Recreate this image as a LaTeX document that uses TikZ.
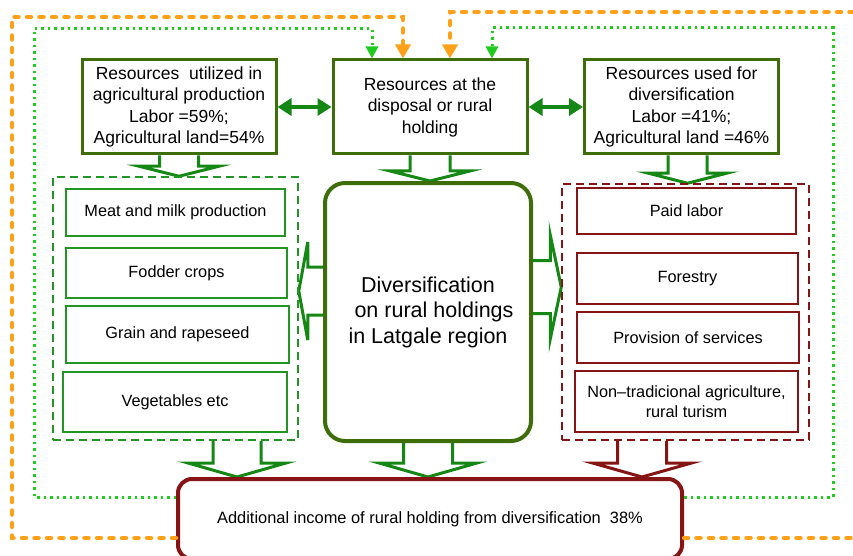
\documentclass[tikz,border=0pt]{standalone}
\usepackage{fontspec}
\setmainfont{Liberation Sans}
\usepackage{tikz}
\usetikzlibrary{arrows.meta}
\usetikzlibrary{calc}
\usetikzlibrary{backgrounds}

\definecolor{boxgreen}{RGB}{62,110,10}
\definecolor{arrowgreen}{RGB}{20,135,20}
\definecolor{listgreen}{RGB}{34,150,34}
\definecolor{listred}{RGB}{135,20,20}
\definecolor{backorange}{RGB}{255,160,25}
\definecolor{backgreen}{RGB}{30,205,30}

\newcommand{\blockarrow}[6][]{%
  \coordinate (bah) at ($(#3)!#6!(#2)$);
  \draw [blockarr, #1] ($(#2)!#4!90:(#3)$) -- ($(bah)!#4!90:(#3)$) -- ($(bah)!#5!90:(#3)$) -- (#3)
    -- ($(bah)!#5!-90:(#3)$) -- ($(bah)!#4!-90:(#3)$) -- ($(#2)!#4!-90:(#3)$);
}

\begin{document}
\begin{tikzpicture}[x=1pt, y=-1pt,
  topbox/.style={draw=boxgreen, line width=3pt, minimum width=194pt, minimum height=94pt, align=center, inner sep=0pt, font=\fontsize{17.5}{21.5}\selectfont},
  divbox/.style={draw=boxgreen, line width=4pt, rounded corners=20pt, minimum width=206pt, minimum height=258pt, align=center, font=\fontsize{21.5}{25.5}\selectfont},
  listgroup/.style={line width=1.5pt, dash pattern=on 8pt off 5pt},
  listbox/.style={line width=2pt, align=center, inner sep=0pt, font=\fontsize{16.3}{19.5}\selectfont},
  incomebox/.style={draw=listred, line width=4pt, rounded corners=14pt, minimum width=504pt, minimum height=80pt, font=\fontsize{16.4}{19.5}\selectfont},
  duplex/.style={{Triangle[length=14pt,width=17pt]}-{Triangle[length=14pt,width=17pt]}, line width=4pt, arrowgreen},
  blockarr/.style={draw=arrowgreen, fill=white, line width=3pt},
  backorg/.style={backorange, line width=4.5pt, line cap=round, dash pattern=on 4pt off 8.5pt, -{Triangle[length=14pt,width=15pt]}},
  backgrn/.style={backgreen, line width=3pt, dash pattern=on 2.5pt off 4pt, -{Triangle[length=12pt,width=12pt]}}]
\useasboundingbox (0,0) rectangle (853,556);
\clip (0,0) rectangle (853,556);

\node [topbox] (agri) at (179,107) {Resources\ \ utilized in\\agricultural production\\Labor =59\%;\\Agricultural land=54\%};
\node [topbox] (hold) at (430,107) {Resources at the\\disposal or rural\\holding};
\node [topbox] (divres) at (681.5,107) {Resources used for\\diversification\\Labor =41\%;\\Agricultural land =46\%};
\node [divbox] (div) at (428,312) {Diversification\\\hspace*{12pt}on rural holdings\\in Latgale region};

\node [listgroup, draw=listgreen, minimum width=245pt, minimum height=263pt] (agrigrp) at (175.5,308.5) {};
\node [listbox, draw=listgreen, minimum width=219pt, minimum height=47pt] (meat) at (175.5,212.5) {Meat and milk production};
\node [listbox, draw=listgreen, minimum width=221pt, minimum height=50pt] (fodder) at (176.5,273) {Fodder crops};
\node [listbox, draw=listgreen, minimum width=223pt, minimum height=57pt] (grain) at (177.5,334.5) {Grain and rapeseed};
\node [listbox, draw=listgreen, minimum width=224pt, minimum height=60pt] (veg) at (175,402) {Vegetables etc};

\node [listgroup, draw=listred, minimum width=247pt, minimum height=256pt] (divgrp) at (685.5,312) {};
\node [listbox, draw=listred, minimum width=219pt, minimum height=46pt] (paid) at (686.5,211) {Paid labor};
\node [listbox, draw=listred, minimum width=221pt, minimum height=51pt] (forest) at (687.5,278.5) {Forestry};
\node [listbox, draw=listred, minimum width=222pt, minimum height=51pt] (serv) at (688,337.5) {Provision of services};
\node [listbox, draw=listred, minimum width=223pt, minimum height=61pt] (nontrad) at (686.5,401.5) {Non--tradicional agriculture,\\rural turism};

\node [incomebox] (income) at (430,519) {Additional income of rural holding from diversification\ \ 38\%};

\draw [duplex] (agri) -- (hold);
\draw [duplex] (hold) -- (divres);

\begin{scope}[on background layer]
\coordinate (agriin) at (agri.south |- agrigrp.north);
\blockarrow{agri.south}{agriin}{19.5pt}{40pt}{10pt}
\coordinate (holdin) at (hold.south |- div.north);
\blockarrow{hold.south}{holdin}{20pt}{40pt}{10pt}
\coordinate (divresout) at ($(divres.south)+(6,0)$);
\coordinate (divresin) at (divresout |- divgrp.north);
\blockarrow{divresout}{divresin}{19.5pt}{39pt}{10pt}
\coordinate (divl) at ($(div.west)+(0,-21)$);
\coordinate (divlin) at (divl -| agrigrp.east);
\blockarrow{divl}{divlin}{24pt}{49pt}{9pt}
\coordinate (divr) at ($(div.east)+(0,-25)$);
\coordinate (divrin) at (divr -| divgrp.west);
\blockarrow{divr}{divrin}{26.5pt}{52pt}{11pt}
\coordinate (agriout) at ($(agrigrp.south)+(61.5,0)$);
\coordinate (agriinc) at (agriout |- income.north);
\blockarrow{agriout}{agriinc}{24pt}{49pt}{14pt}
\coordinate (divinc) at (div.south |- income.north);
\blockarrow{div.south}{divinc}{24.5pt}{49pt}{14pt}
\coordinate (divgrpout) at ($(divgrp.south)+(-43.5,0)$);
\coordinate (divgrpinc) at (divgrpout |- income.north);
\blockarrow[draw=listred]{divgrpout}{divgrpinc}{24.5pt}{49.5pt}{14pt}
\end{scope}

\draw [backorg] ($(income.west)+(0,19)$) -| (12,17) -| ($(hold.north)+(-27,0)$);
\draw [backorg] ($(income.east)+(0,19)$) -| (862,12) -| ($(hold.north)+(20,0)$);
\draw [backgrn] ($(income.west)+(0,-22)$) -| (34,29) -| ($(hold.north)+(-58,0)$);
\draw [backgrn] ($(income.east)+(0,-22)$) -| (833,28) -| ($(hold.north)+(62,0)$);
\end{tikzpicture}
\end{document}
